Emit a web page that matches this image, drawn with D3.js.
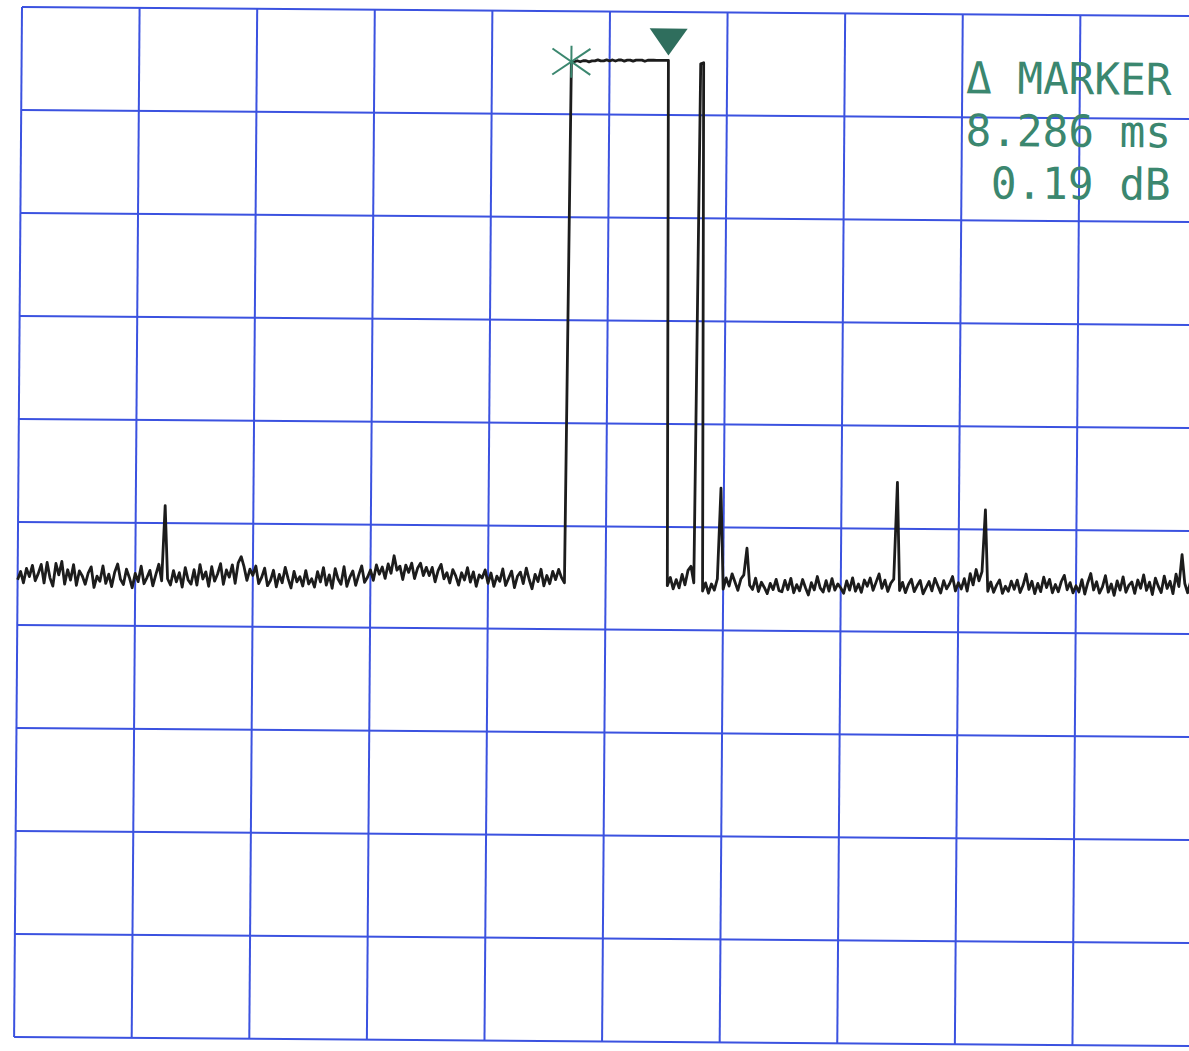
<!DOCTYPE html>
<html>
<head>
<meta charset="utf-8">
<script src="https://cdn.jsdelivr.net/npm/d3@7"></script>
<style>
  html, body { margin: 0; padding: 0; background: #fff; }
  svg { display: block; }
</style>
</head>
<body>
<svg id="chart" width="1189" height="1051"></svg>
<script>
// time axis: 10 ms/div, 401 trace points over the sweep
var xTicks = [0, 10, 20, 30, 40, 50, 60, 70, 80, 90, 100];
// amplitude: 10 dB/div, reference level at top
var yTicks = [0, -10, -20, -30, -40, -50, -60, -70, -80, -90, -100];
var sampleStepMs = 0.25;

// trace, dB, one row per 5 ms
var traceDb = [
  -55.6,-54.8,-55.9,-54.5,-55.3,-54.2,-55.7,-55.0,-54.1,-55.9,-53.9,-55.4,-56.2,-54.0,-55.1,-53.8,-56.0,-54.6,-55.6,-54.1,
  -56.1,-54.7,-55.2,-56.0,-54.9,-54.3,-56.3,-55.2,-55.7,-54.2,-55.9,-55.0,-56.2,-54.8,-54.0,-55.5,-56.0,-54.5,-55.3,-56.3,
  -54.9,-55.7,-54.2,-55.9,-55.3,-54.6,-56.1,-55.0,-54.0,-55.6,-48.3,-55.4,-56.0,-54.6,-55.7,-54.8,-56.2,-54.3,-55.5,-55.9,
  -54.5,-56.0,-54.0,-55.4,-54.7,-56.1,-54.2,-55.6,-54.9,-53.9,-55.9,-54.5,-55.2,-54.0,-55.8,-53.8,-53.2,-54.2,-55.5,-54.4,
  -55.0,-54.1,-55.8,-55.2,-54.3,-56.0,-55.5,-54.5,-56.1,-54.9,-55.7,-54.2,-55.3,-56.2,-54.6,-55.6,-55.1,-56.0,-54.5,-55.8,
  -55.3,-56.1,-54.6,-55.6,-54.2,-55.9,-54.9,-56.2,-54.3,-55.3,-55.8,-54.1,-56.0,-55.1,-54.5,-55.9,-54.9,-54.0,-55.6,-55.1,
  -54.4,-55.4,-53.9,-54.8,-54.1,-55.2,-53.8,-54.7,-53.0,-54.4,-54.0,-55.3,-53.9,-54.6,-53.7,-55.2,-54.2,-53.7,-54.9,-54.1,
  -54.9,-54.1,-55.5,-54.4,-53.8,-55.2,-54.6,-55.6,-54.3,-54.9,-55.8,-54.6,-55.3,-54.1,-55.5,-54.5,-55.9,-54.8,-55.1,-54.3,
  -55.6,-54.6,-55.9,-54.9,-55.4,-54.2,-55.8,-55.1,-54.4,-56.0,-54.9,-54.5,-55.6,-54.1,-55.2,-56.1,-54.7,-55.4,-54.2,-55.8,
  -54.8,-55.6,-54.4,-55.2,-54.2,-55.0,-55.5,-4.9,-4.9,-4.8,-4.9,-4.8,-4.8,-4.9,-4.8,-4.8,-4.7,-4.8,-4.8,-4.7,
  -4.8,-4.7,-4.8,-4.7,-4.7,-4.8,-4.7,-4.7,-4.8,-4.7,-4.7,-4.7,-4.8,-4.7,-4.7,-4.7,-4.7,-4.7,-4.7,-4.7,
  -4.7,-55.7,-54.9,-56.0,-55.1,-55.9,-54.6,-55.6,-54.2,-53.8,-55.4,-5.0,-4.9,-56.2,-55.4,-56.4,-55.5,-56.1,-55.0,-46.2,
  -56.0,-54.9,-55.7,-54.5,-55.3,-56.1,-55.0,-54.6,-52.0,-55.6,-56.0,-54.9,-56.2,-55.3,-55.8,-56.4,-55.4,-56.0,-55.0,-56.1,
  -56.2,-55.1,-56.0,-54.9,-56.3,-55.5,-56.1,-55.0,-55.8,-56.5,-55.3,-56.0,-54.7,-55.8,-56.2,-55.1,-56.1,-54.9,-56.0,-55.4,
  -55.8,-56.3,-55.1,-56.0,-54.8,-56.1,-55.4,-56.2,-55.0,-55.6,-54.8,-56.0,-55.2,-54.4,-55.8,-55.0,-56.1,-55.3,-54.9,-45.5,
  -56.0,-55.2,-56.2,-55.4,-54.9,-56.1,-55.5,-55.0,-56.3,-55.7,-55.1,-56.0,-54.8,-55.5,-56.2,-55.0,-55.8,-55.3,-54.6,-56.0,
  -55.2,-55.8,-54.8,-56.0,-54.3,-55.4,-53.9,-55.0,-54.1,-48.1,-56.0,-55.1,-56.1,-55.4,-54.9,-56.2,-55.5,-56.0,-55.0,-55.8,
  -54.9,-56.1,-55.4,-54.3,-55.8,-55.0,-56.2,-55.2,-56.0,-54.6,-55.6,-54.8,-56.1,-55.3,-56.0,-55.0,-54.4,-55.8,-55.1,-56.1,
  -55.4,-56.0,-54.8,-56.2,-55.1,-54.2,-55.8,-55.0,-56.1,-55.5,-54.4,-56.0,-55.2,-56.3,-54.9,-55.8,-54.5,-56.0,-55.3,-55.0,
  -56.1,-54.8,-55.6,-54.3,-55.8,-55.0,-56.2,-54.6,-55.4,-56.0,-54.4,-55.6,-54.9,-56.1,-54.2,-55.4,-52.3,-55.1,-56.0,-54.9,
  -55.3
];

// marker 1 (*) and delta marker (triangle)
var markerMs = [46.75, 55.0];
var markerDb = [-4.9, -4.71];
var markerText = ["\u0394 MARKER", "8.286 ms", "0.19 dB"];

var svg = d3.select("#chart");
var gridW = 1176, gridH = 1030;
var gridColor = "#3b52e0", traceColor = "#1c1c1c", markColor = "#3b876f";

svg.append("rect").attr("width", 1189).attr("height", 1051).attr("fill", "#fff");

// the plot came off a slightly skewed scan, so the whole graticule is tilted
var g = svg.append("g").attr("transform", "translate(22,7) rotate(0.44)");

var x = d3.scaleLinear().domain([0, 100]).range([0, gridW]);
var y = d3.scaleLinear().domain([0, -100]).range([0, gridH]);

// graticule
g.selectAll(".vline")
  .data(xTicks)
  .enter()
  .append("line")
  .attr("class", "vline")
  .attr("x1", function (d) { return x(d); })
  .attr("x2", function (d) { return x(d); })
  .attr("y1", y(0))
  .attr("y2", y(-100))
  .style("stroke", gridColor)
  .style("stroke-width", 2);

g.selectAll(".hline")
  .data(yTicks)
  .enter()
  .append("line")
  .attr("class", "hline")
  .attr("x1", x(0))
  .attr("x2", x(100))
  .attr("y1", function (d) { return y(d); })
  .attr("y2", function (d) { return y(d); })
  .style("stroke", gridColor)
  .style("stroke-width", 2);

// trace
var traceLine = d3
  .line()
  .x(function (d, i) { return x(i * sampleStepMs); })
  .y(function (d) { return y(d); });

g.append("path")
  .attr("d", traceLine(traceDb))
  .style("fill", "none")
  .style("stroke", traceColor)
  .style("stroke-width", 2.8)
  .style("stroke-linejoin", "round");

// marker 1: asterisk
var m1x = x(markerMs[0]), m1y = y(markerDb[0]);
var star = [[0, -16, 0, 16], [-19, -13, 19, 13], [-19, 13, 19, -13]];
g.selectAll(".star")
  .data(star)
  .enter()
  .append("line")
  .attr("class", "star")
  .attr("x1", function (d) { return m1x + d[0]; })
  .attr("y1", function (d) { return m1y + d[1]; })
  .attr("x2", function (d) { return m1x + d[2]; })
  .attr("y2", function (d) { return m1y + d[3]; })
  .style("stroke", markColor)
  .style("stroke-width", 2);

// delta marker: filled triangle pointing down at the trace
var m2x = x(markerMs[1]), m2y = y(markerDb[1]);
g.append("path")
  .attr("d", d3.line()([[m2x - 19, m2y - 32], [m2x + 19, m2y - 32], [m2x, m2y - 5]]) + "Z")
  .style("fill", "#2f6e5d");

// marker readout, right aligned
g.selectAll(".readout")
  .data(markerText)
  .enter()
  .append("text")
  .attr("class", "readout")
  .attr("transform", function (d, i) {
    return "translate(" + (gridW - 26) + "," + (79 + i * 52.5) + ") scale(0.97,1)";
  })
  .attr("text-anchor", "end")
  .style("font-family", "'DejaVu Sans Mono', monospace")
  .style("font-size", "44px")
  .style("fill", markColor)
  .text(function (d) { return d; });
</script>
</body>
</html>
